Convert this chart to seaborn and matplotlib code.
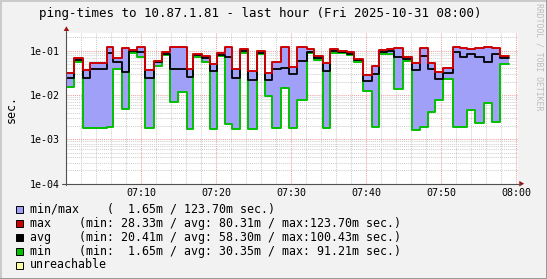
import matplotlib
matplotlib.use("Agg")
import matplotlib.pyplot as plt
from matplotlib.lines import Line2D
from matplotlib.patches import Rectangle, Polygon
from matplotlib.ticker import MultipleLocator, LogLocator, NullFormatter
import numpy as np
import pandas as pd
import seaborn as sns

# ---------------- data ----------------
# step edges in minutes after 07:00 (last value = end of the final step)
step_edges_min = [0.0, 1.07, 2.27, 3.15, 4.27, 5.41, 6.27, 7.41, 8.4, 9.41,
                  10.48, 11.73, 12.75, 13.81, 14.97, 16.08, 16.97, 18.13, 19.2, 20.17,
                  21.15, 22.17, 23.15, 24.27, 25.41, 26.48, 27.51, 28.71, 29.73, 30.84,
                  32.08, 33.07, 34.27, 35.15, 36.31, 37.41, 38.4, 39.6, 40.75, 41.73,
                  42.75, 43.73, 44.93, 46.08, 47.15, 48.21, 49.2, 50.24, 51.6, 52.53,
                  53.51, 54.53, 55.73, 56.84, 57.87, 59.07]
max_ms = [30.9, 70.2, 36.1, 54.2, 51.9, 119.3, 67.4, 113.3, 102.1, 123.7,
          36.7, 59.5, 94.9, 122.5, 123.1, 38.0, 82.9, 75.9, 50.1, 91.1,
          119.3, 38.2, 107.6, 34.3, 96.9, 32.2, 54.7, 119.3, 42.2, 119.3,
          107.6, 75.9, 51.9, 107.6, 101.0, 94.9, 66.0, 28.33, 45.1, 102.1,
          108.1, 113.3, 71.0, 51.9, 113.3, 51.9, 32.5, 40.1, 119.3, 113.3,
          107.6, 113.3, 119.3, 113.3, 77.1]
avg_ms = [24.2, 61.7, 23.8, 38.0, 38.0, 87.3, 54.7, 32.5, 96.9, 93.5,
          23.8, 54.7, 84.2, 38.0, 39.2, 25.1, 79.1, 67.4, 34.3, 82.1,
          71.0, 23.8, 99.0, 21.8, 87.3, 21.8, 38.0, 41.8, 29.3, 58.5,
          93.5, 67.4, 34.3, 100.43, 95.9, 85.1, 60.7, 20.41, 30.1, 93.5,
          96.9, 72.1, 63.9, 36.1, 75.9, 38.2, 22.7, 30.9, 92.0, 71.0,
          82.9, 71.0, 54.7, 82.9, 67.4]
min_ms = [15.0, 54.7, 1.77, 1.77, 1.85, 1.87, 38.0, 4.75, 87.3, 72.1,
          1.77, 45.1, 80.0, 7.1, 11.9, 1.68, 72.1, 57.0, 1.68, 74.7,
          2.19, 1.68, 90.5, 1.68, 82.9, 9.5, 1.77, 14.2, 1.77, 7.6,
          87.3, 61.7, 1.77, 91.21, 88.7, 80.0, 54.7, 12.1, 1.87, 82.9,
          84.2, 13.5, 57.9, 1.65, 1.87, 4.07, 7.6, 22.6, 1.87, 1.87,
          4.5, 2.3, 6.5, 2.46, 49.3]

x_tick_minutes = [10, 20, 30, 40, 50, 60]
x_tick_labels = ["07:10", "07:20", "07:30", "07:40", "07:50", "08:00"]
y_tick_values = [1e-4, 1e-3, 1e-2, 1e-1]
y_tick_labels = ["1e-04", "1e-03", "1e-02", "1e-01"]

title_text = "ping-times to 10.87.1.81 - last hour (Fri 2025-10-31 08:00)"
y_label = "sec."
watermark = "RRDTOOL / TOBI OETIKER"
legend_labels = [
    "min/max    (  1.65m / 123.70m sec.)",
    "max    (min: 28.33m / avg: 80.31m / max:123.70m sec.)",
    "avg    (min: 20.41m / avg: 58.30m / max:100.43m sec.)",
    "min    (min:  1.65m / avg: 30.35m / max: 91.21m sec.)",
    "unreachable",
]
legend_colors = ["#A0A0F8", "#CC0000", "#000000", "#00C000", "#FFFFA0"]

# ---------------- style ----------------
sns.set_theme(style="white")
plt.rcParams["font.family"] = ["DejaVu Sans Mono"]
plt.rcParams["text.color"] = "black"
plt.rcParams["xtick.color"] = "black"
plt.rcParams["ytick.color"] = "black"

W, H = 547, 279
BG = "#F2F2F2"
fig = plt.figure(figsize=(W / 100, H / 100), dpi=100, facecolor=BG)


def fx(x):
    return x / W


def fy(y):
    return 1 - y / H


# canvas: 07:00 at x=66 px, 7.5 px per minute; 1e-4 at y=183.7, 44.3 px/decade
ax = fig.add_axes([fx(66), fy(183.7), (518 - 66) / W, (183.7 - 33.3) / H])
ax.set_facecolor("white")
ax.set_yscale("log")

def stepped(values):
    arr = np.asarray(values, dtype=float) / 1000.0
    return np.append(arr, arr[-1])

df = pd.DataFrame({
    "t": np.asarray(step_edges_min, dtype=float),
    "max": stepped(max_ms),
    "avg": stepped(avg_ms),
    "min": stepped(min_ms),
})

ax.fill_between(df["t"], df["min"], df["max"], step="post",
                color="#A0A0F8", linewidth=0, zorder=2)
sns.lineplot(data=df, x="t", y="min", drawstyle="steps-post", color="#00C000",
             linewidth=1.4, ax=ax, zorder=3, estimator=None, sort=False)
sns.lineplot(data=df, x="t", y="avg", drawstyle="steps-post", color="#000000",
             linewidth=1.3, ax=ax, zorder=4, estimator=None, sort=False)
sns.lineplot(data=df, x="t", y="max", drawstyle="steps-post", color="#CC0000",
             linewidth=1.4, ax=ax, zorder=5, estimator=None, sort=False)

ax.set_xlim(0, (518 - 66) / 7.5)
ax.set_ylim(1e-4, 10 ** (-4 + (183.7 - 33.3) / 44.3))
ax.set_xlabel("")
ax.set_ylabel("")

ax.set_xticks(x_tick_minutes)
ax.set_xticklabels(x_tick_labels)
ax.xaxis.set_minor_locator(MultipleLocator(2))
ax.set_yticks(y_tick_values)
ax.set_yticklabels(y_tick_labels)
ax.yaxis.set_minor_locator(LogLocator(base=10, subs=np.arange(2, 10)))
ax.yaxis.set_minor_formatter(NullFormatter())

ax.set_axisbelow(True)
ax.grid(which="minor", color="#CFCFCF", linestyle=(0, (1, 1)), linewidth=0.75)
ax.grid(which="major", color="#F0A0A0", linestyle=(0, (1, 1)), linewidth=0.75)

ax.tick_params(axis="x", which="major", length=2, width=0.7, color="#D05050",
               pad=1.2, labelsize=7.2)
ax.tick_params(axis="x", which="minor", length=0)
ax.tick_params(axis="y", which="major", length=3.3, width=0.7, color="#505050",
               pad=1.5, labelsize=7.2)
ax.tick_params(axis="y", which="minor", length=0)
for s in ax.spines.values():
    s.set_visible(False)

# axis lines + arrows
fig.add_artist(Line2D([fx(66.4), fx(66.4)], [fy(184.5), fy(30.5)],
                      transform=fig.transFigure, color="#505050", lw=0.8))
fig.add_artist(Line2D([fx(62), fx(519.5)], [fy(183.7), fy(183.7)],
                      transform=fig.transFigure, color="#505050", lw=0.8))
fig.add_artist(Polygon([(fx(63.6), fy(31.0)), (fx(69.2), fy(31.0)), (fx(66.4), fy(26.3))],
                       closed=True, transform=fig.transFigure, color="#9A1515", lw=0))
fig.add_artist(Polygon([(fx(519.3), fy(180.9)), (fx(519.3), fy(186.5)), (fx(524.2), fy(183.7))],
                       closed=True, transform=fig.transFigure, color="#9A1515", lw=0))

# title, unit label, watermark
fig.text(fx(260.5), fy(14), title_text, ha="center", va="center", fontsize=9.0)
fig.text(fx(11), fy(109), y_label, rotation=90, ha="center", va="center", fontsize=8.4)
fig.text(fx(539.5), fy(3), watermark, rotation=270, ha="center", va="top",
         fontsize=5.9, color="#BDBDBD")

# legend
row_y = [209.5, 223.4, 237.3, 251.2, 265.0]
for label, color, yc in zip(legend_labels, legend_colors, row_y):
    fig.add_artist(Rectangle((fx(15.7), fy(yc + 3.5)), 7 / W, 7 / H,
                             transform=fig.transFigure, facecolor=color,
                             edgecolor="black", lw=0.7))
    fig.text(fx(30), fy(yc), label, ha="left", va="center", fontsize=8.4)

# 3D-ish border of the image
fig.add_artist(Rectangle((0, 0), fx(1.5), 1, transform=fig.transFigure,
                         facecolor="#CBCBCB", lw=0))
fig.add_artist(Rectangle((0, fy(1.5)), 1, 1.5 / H, transform=fig.transFigure,
                         facecolor="#CBCBCB", lw=0))
fig.add_artist(Rectangle((fx(545.5), 0), 1.5 / W, 1, transform=fig.transFigure,
                         facecolor="#999999", lw=0))
fig.add_artist(Rectangle((0, 0), 1, 1.5 / H, transform=fig.transFigure,
                         facecolor="#999999", lw=0))

fig.savefig("out.png", dpi=100, facecolor=BG)
